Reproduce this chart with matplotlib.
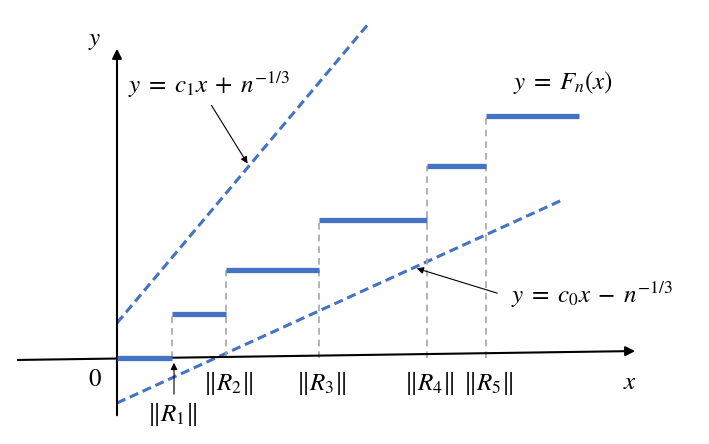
import numpy as np
import matplotlib.pyplot as plt

plt.rcParams['mathtext.fontset'] = 'stix'
plt.rcParams['font.family'] = 'STIXGeneral'

# step function F_n(x): jump points ||R_k|| and levels (diagram units)
jumps = [0, 55, 109, 202, 310, 369]
x_end = 462
levels = [0, 44, 88, 138, 192, 242]
r_labels = [r"$\Vert R_1\Vert$", r"$\Vert R_2\Vert$", r"$\Vert R_3\Vert$",
            r"$\Vert R_4\Vert$", r"$\Vert R_5\Vert$"]

# bounding lines y = c x +/- n^(-1/3)
c1, b1, x1_end = 1.19, 35, 253
c0, b0, x0_end = 0.456, -45, 445

blue = "#4472C4"
gray = "#A6A6A6"

fig = plt.figure(figsize=(7.09, 4.44), dpi=100)
ax = fig.add_axes([0, 0, 1, 1])
ax.set_xlim(-117, 592)
ax.set_ylim(-86, 358)
ax.axis("off")

# axes with arrows
ax.annotate("", xy=(521, 7), xytext=(-102, -2),
            arrowprops=dict(arrowstyle="-|>", color="black", lw=1.5, mutation_scale=14))
ax.annotate("", xy=(0, 312), xytext=(0, -60),
            arrowprops=dict(arrowstyle="-|>", color="black", lw=1.5, mutation_scale=14))

# dashed bounding lines
xs = np.array([0, x1_end])
ax.plot(xs, c1 * xs + b1, color=blue, lw=2.2, ls=(0, (3, 1.6)))
xs = np.array([0, x0_end])
ax.plot(xs, c0 * xs + b0, color=blue, lw=2.2, ls=(0, (3, 1.6)))

# step function
ends = jumps[1:] + [x_end]
for x0, x1, lv in zip(jumps, ends, levels):
    ax.plot([x0, x1], [lv, lv], color=blue, lw=3.8, solid_capstyle="butt", zorder=3)
for xj, lv in zip(jumps[1:], levels[1:]):
    ax.plot([xj, xj], [0, lv], color=gray, lw=1.2, ls=(0, (4, 3)), zorder=2)

# tick labels ||R_k||
fs = 18
ax.text(jumps[1], -56, r_labels[0], fontsize=fs, ha="center", va="center")
for xj, lab in zip(jumps[2:], r_labels[1:]):
    ax.text(xj + 2, -25, lab, fontsize=fs, ha="center", va="center")
ax.annotate("", xy=(jumps[1] + 2, -2), xytext=(jumps[1] + 2, -39),
            arrowprops=dict(arrowstyle="-|>", color="black", lw=0.8, mutation_scale=10))

ax.text(-22, -22, r"$0$", fontsize=fs, ha="center", va="center")
ax.text(513, -25, r"$x$", fontsize=fs, ha="center", va="center")
ax.text(-22, 318, r"$y$", fontsize=fs, ha="center", va="center")

# line labels
eq = 18
ax.text(92, 273, r"$y\;=\;c_1x\;+\;n^{-1/3}$", fontsize=eq, ha="center", va="center")
ax.annotate("", xy=(132, c1 * 132 + b1), xytext=(93, 255),
            arrowprops=dict(arrowstyle="-|>", color="black", lw=0.8, mutation_scale=10))
ax.text(446, 276, r"$y\;=\;F_n(x)$", fontsize=eq, ha="center", va="center")
ax.text(475, 63, r"$y\;=\;c_0x\;-\;n^{-1/3}$", fontsize=eq, ha="center", va="center")
ax.annotate("", xy=(297, c0 * 297 + b0), xytext=(383, 64),
            arrowprops=dict(arrowstyle="-|>", color="black", lw=0.8, mutation_scale=10))

plt.savefig("out.png", dpi=100)
